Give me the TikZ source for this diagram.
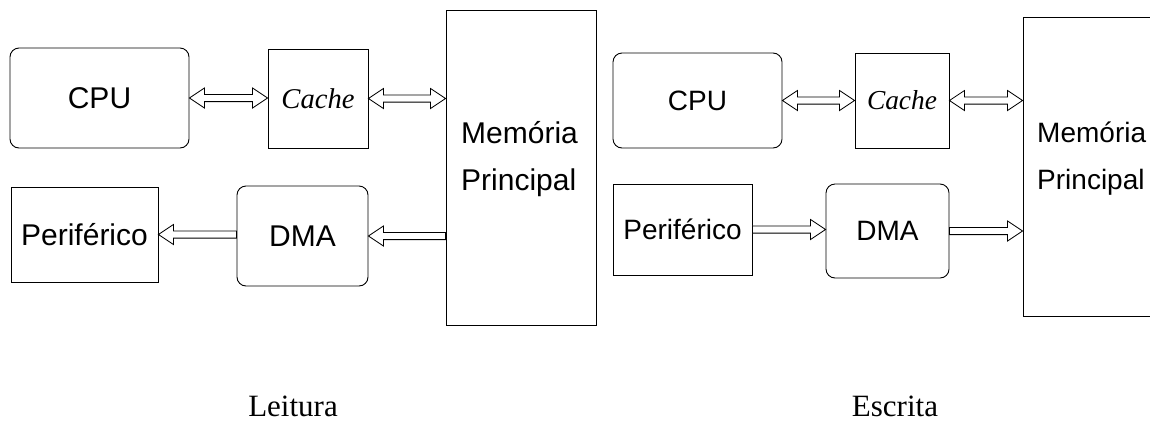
\documentclass[tikz,border=0pt]{standalone}
\usepackage{fontspec}
\setmainfont{Liberation Serif}
\newfontfamily\arialf{Liberation Sans}
\usetikzlibrary{calc}
\tikzset{
  box/.style={draw=black, line width=0.9pt, rectangle, inner sep=0pt, anchor=center},
  rbox/.style={box, rounded corners=9pt},
  lbig/.style={font=\arialf\fontsize{30}{36}\selectfont},
  lsmall/.style={font=\arialf\fontsize{28}{34}\selectfont},
  memtxt/.style={inner sep=0pt, anchor=base west},
  arr/.style={draw=black, fill=white, line width=0.8pt, line join=miter},
  caption/.style={font=\fontsize{31}{36}\selectfont, anchor=base, inner sep=0pt}
}
\newcommand{\dblarr}[2]{%
  \draw[arr] let \p1=(#1), \p2=(#2) in
   (\x1,\y1) -- (\x1+15pt,\y1+10pt) -- (\x1+15pt,\y1+3.6pt) -- (\x2-15pt,\y1+3.6pt)
   -- (\x2-15pt,\y1+10pt) -- (\x2,\y1) -- (\x2-15pt,\y1-10pt) -- (\x2-15pt,\y1-3.6pt)
   -- (\x1+15pt,\y1-3.6pt) -- (\x1+15pt,\y1-10pt) -- cycle;}
\newcommand{\larr}[2]{% head at #1 (left), tail at #2 (right)
  \draw[arr] let \p1=(#1), \p2=(#2) in
   (\x1,\y1) -- (\x1+15pt,\y1+10pt) -- (\x1+15pt,\y1+3.6pt) -- (\x2,\y1+3.6pt)
   -- (\x2,\y1-3.6pt) -- (\x1+15pt,\y1-3.6pt) -- (\x1+15pt,\y1-10pt) -- cycle;}
\newcommand{\rarr}[2]{% tail at #1 (left), head at #2 (right)
  \draw[arr] let \p1=(#1), \p2=(#2) in
   (\x1,\y1+3.6pt) -- (\x2-15pt,\y1+3.6pt) -- (\x2-15pt,\y1+10pt) -- (\x2,\y1)
   -- (\x2-15pt,\y1-10pt) -- (\x2-15pt,\y1-3.6pt) -- (\x1,\y1-3.6pt) -- cycle;}
\begin{document}
\begin{tikzpicture}[x=1pt,y=-1pt]
\useasboundingbox (0,0) rectangle (1150,421);
\clip (0,0) rectangle (1150,421);
% ---------- Leitura ----------
\node[rbox, lbig, minimum width=179pt, minimum height=100pt] (cpuL) at (99.5,98) {CPU};
\node[box, minimum width=100pt, minimum height=99pt, font=\itshape\fontsize{28.6}{34}\selectfont] (cacheL) at (318,98.5) {Cache};
\node[box, minimum width=150pt, minimum height=315pt] (memL) at (521,167.5) {};
\node[memtxt, lbig] (memL1) at (461,143) {Memória};
\node[memtxt, lbig] (memL2) at (461,190) {Principal};
\node[box, lbig, minimum width=147pt, minimum height=95pt] (perL) at (84.5,234.5) {Periférico};
\node[rbox, lbig, minimum width=131pt, minimum height=100pt] (dmaL) at (302.5,236) {DMA};
\dblarr{cpuL.east}{cacheL.west}
\dblarr{cacheL.east}{cacheL.east -| memL.west}
\larr{perL.east}{perL.east -| dmaL.west}
\larr{dmaL.east}{dmaL.east -| memL.west}
\node[caption] (leit) at (293,416) {Leitura};
% ---------- Escrita ----------
\node[rbox, lsmall, minimum width=169pt, minimum height=95pt] (cpuR) at (697.5,100.5) {CPU};
\node[box, minimum width=94pt, minimum height=95pt, font=\itshape\fontsize{27.4}{33}\selectfont] (cacheR) at (902,100.5) {Cache};
\node[box, minimum width=137pt, minimum height=299pt] (memR) at (1091.5,166.5) {};
\node[memtxt, lsmall] (memR1) at (1037,142) {Memória};
\node[memtxt, lsmall] (memR2) at (1037,189) {Principal};
\node[box, lsmall, minimum width=139pt, minimum height=91pt] (perR) at (682.5,229.5) {Periférico};
\node[rbox, lsmall, minimum width=123pt, minimum height=94pt] (dmaR) at (887.5,231) {DMA};
\dblarr{cpuR.east}{cacheR.west}
\dblarr{cacheR.east}{cacheR.east -| memR.west}
\rarr{perR.east}{perR.east -| dmaR.west}
\rarr{dmaR.east}{dmaR.east -| memR.west}
\node[caption] (escr) at (895,416) {Escrita};
\end{tikzpicture}
\end{document}
